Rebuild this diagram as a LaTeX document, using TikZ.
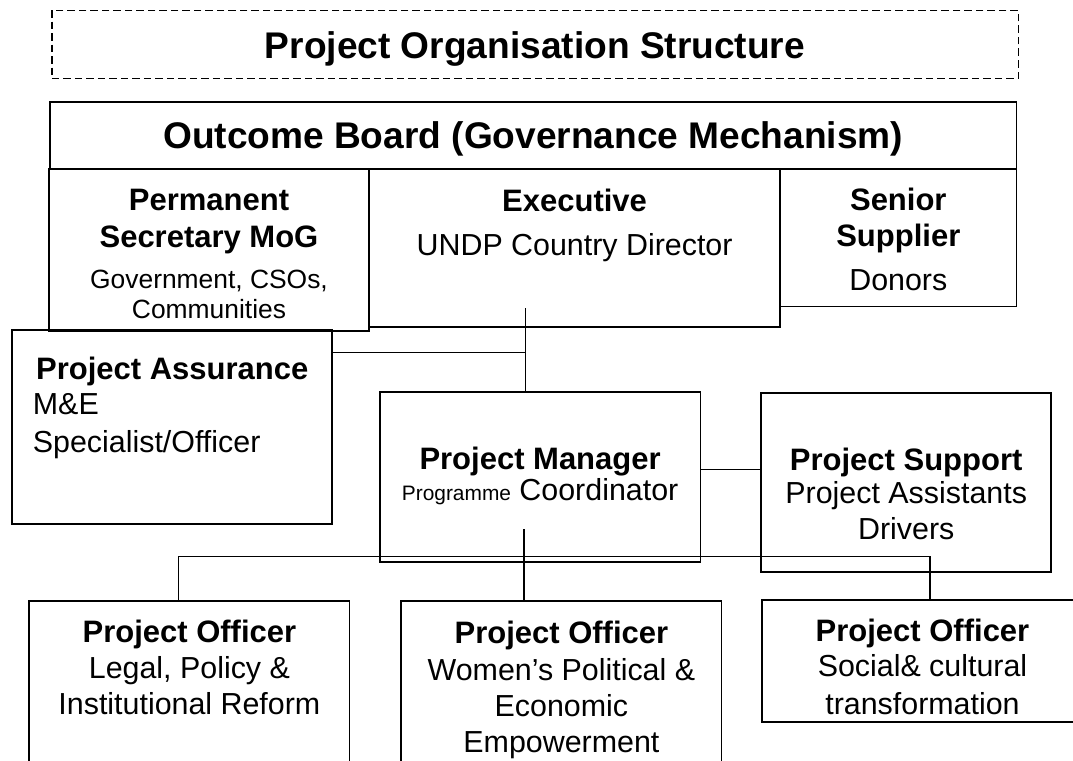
\documentclass[tikz,border=0pt]{standalone}
\usepackage{fontspec}
\setmainfont{Liberation Sans}
\newcommand\hd[1]{{\fontsize{31}{36}\selectfont\bfseries #1}}
\tikzset{
    box/.style={draw, line width=1.8pt, inner sep=0pt},
    ttl/.style={draw, dash pattern=on 7.5pt off 4pt, line width=1.5pt, inner sep=0pt},
    txt/.style={align=center, inner sep=0pt, anchor=base, font=\fontsize{30.4}{36}\selectfont},
    big/.style={inner sep=0pt, anchor=base, font=\fontsize{37.1}{44}\selectfont\bfseries},
    link/.style={line width=1.3pt}
}

\begin{document}
\begin{tikzpicture}[x=1pt, y=-1pt]
    \useasboundingbox (0,0) rectangle (1073,760);
    \clip (0,0) rectangle (1073,760);

    % boxes
    \node[ttl, minimum width=966.5pt, minimum height=68.2pt] (title) at (535,44.4) {};
    \node[box, minimum width=966.6pt, minimum height=67.1pt] (board) at (533.2,135.2) {};
    \node[box, minimum width=320.2pt, minimum height=161.9pt] (perm) at (209,249.7) {};
    \node[box, minimum width=410.9pt, minimum height=158.4pt] (exec) at (574.6,247.9) {};
    \node[box, minimum width=236.5pt, minimum height=137.7pt] (supp) at (898.3,237.6) {};
    \node[box, minimum width=320.3pt, minimum height=194.3pt] (assur) at (172.2,426.8) {};
    \node[box, minimum width=320.6pt, minimum height=169.7pt] (mgr) at (540.1,477.2) {};
    \node[box, minimum width=289.8pt, minimum height=179pt] (supt) at (906.2,482.2) {};
    \node[box, minimum width=320.2pt, minimum height=199.4pt] (legal) at (189.4,700.3) {};
    \node[box, minimum width=320.3pt, minimum height=199.4pt] (women) at (561.4,700.3) {};
    \node[box, minimum width=321pt, minimum height=122.2pt] (social) at (922.5,660.9) {};

    % texts, each set on the baseline of its last line
    \node[big] (titlet) at (535,58.5) {Project Organisation Structure};
    \node[big] (boardt) at (533.2,148.8) {Outcome Board (Governance Mechanism)};
    \node[txt] (permt) at (209,318.5) {\hd{Permanent}\\[1.2pt] \hd{Secretary MoG}\\[5.4pt]
        \fontsize{26.4}{30}\selectfont Government, CSOs,\\[-6.1pt] \fontsize{26.4}{30}\selectfont Communities};
    \node[txt] (exect) at (574.6,255.5) {\hd{Executive}\\[8.5pt] UNDP Country Director};
    \node[txt] (suppt) at (898.3,290.9) {\hd{Senior}\\ \hd{Supplier}\\[8pt] Donors};
    \node[txt] (assurt) at (172.2,379.2) {\hd{Project Assurance}};
    \node[txt, align=left, anchor=base west] (assurd) at (32.7,452.6) {M\&E\\[1.9pt] Specialist/Officer};
    \node[txt] (mgrt) at (540.1,500.8) {\hd{Project Manager}\\[-5pt]
        {\fontsize{20.9}{24}\selectfont Programme} Coordinator};
    \node[txt] (suptt) at (906.2,539.2) {\hd{Project Support}\\[-3.1pt] Project Assistants\\[-0.3pt] Drivers};
    \node[txt] (legalt) at (189.4,714.3) {\hd{Project Officer}\\ Legal, Policy \&\\ Institutional Reform};
    \node[txt] (woment) at (561.4,752.8) {\hd{Project Officer}\\[0.3pt] Women’s Political \&\\[0.5pt]
        Economic\\[0.3pt] Empowerment};
    \node[txt] (socialt) at (922.5,714) {\hd{Project Officer}\\[-0.7pt] Social\& cultural\\[1.4pt] transformation};

    % joints of the connectors
    \coordinate (xj) at (525.8,352.7);
    \coordinate (xs) at (525.8,308.2);
    \coordinate (mj) at (730,469.6);
    \coordinate (bl) at (178.4,556.5);
    \coordinate (br) at (930,556.5);
    \coordinate (bm) at (524.1,529.4);

    % connectors
    \draw[link] (xs) -- (xs |- mgr.north);
    \draw[link] (assur.east |- xj) -- (xj);
    \draw[link] (mgr.east |- mj) -- (supt.west |- mj);
    \draw[link] (bl |- legal.north) -- (bl) -- (br) -- (br |- social.north);
    \draw[link] (bm) -- (bm |- women.north);
\end{tikzpicture}
\end{document}
